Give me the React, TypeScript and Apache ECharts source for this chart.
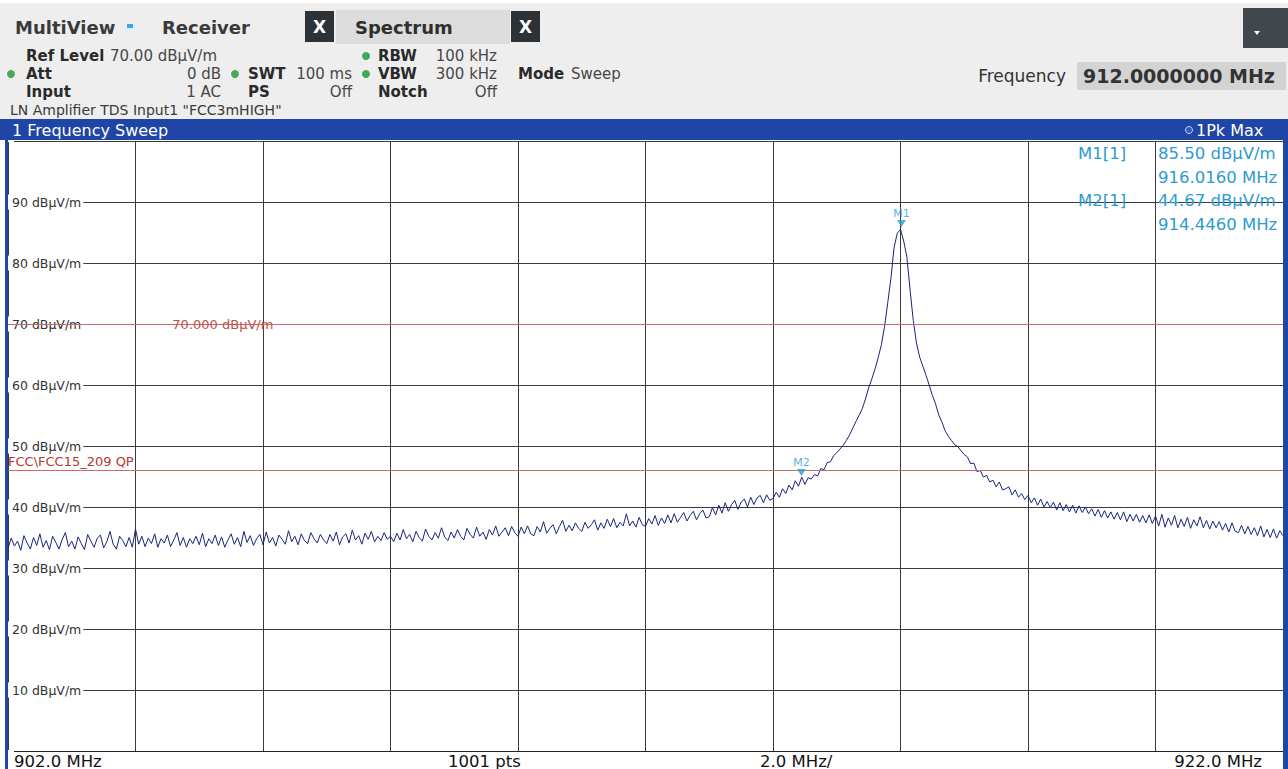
import React, { useEffect, useRef } from "react";
import * as echarts from "echarts";

// ---------- DATA ----------
const START_MHZ = 902;
const STOP_MHZ = 922;
const STEP_MHZ = 0.05;

// Trace level (dBµV/m) every 0.05 MHz, 902.00 … 922.00 MHz (one row per MHz)
const traceLevels: number[] = [
  33.2, 34.9, 33.6, 34.4, 32.9, 35.3, 34.1, 33.1, 35.0, 33.7, 35.6, 33.4, 34.5, 33.0, 35.2, 34.2, 33.1, 34.7, 35.8, 33.5,
  34.4, 33.1, 35.1, 34.0, 33.0, 35.5, 34.4, 33.4, 34.9, 35.4, 33.3, 34.3, 36.0, 33.9, 33.1, 35.2, 34.5, 33.5, 35.0, 33.4,
  36.4, 33.9, 35.2, 33.5, 34.9, 34.0, 35.6, 33.4, 34.8, 34.1, 35.4, 33.5, 34.6, 35.8, 33.7, 35.0, 33.4, 34.8, 34.0, 35.2,
  33.8, 35.7, 33.5, 34.8, 34.0, 35.4, 33.7, 35.1, 33.4, 34.6, 35.6, 33.9, 35.0, 33.5, 36.0, 34.2, 35.3, 33.7, 34.8, 35.5,
  33.8, 35.9, 34.1, 35.0, 33.6, 35.4, 34.7, 33.9, 36.1, 34.3, 35.2, 33.8, 35.6, 34.5, 34.0, 35.8, 34.8, 34.1, 35.5, 34.6,
  34.0, 35.5, 34.4, 35.9, 33.8, 35.1, 35.6, 34.1, 36.2, 34.6, 35.3, 33.9, 35.7, 34.7, 36.0, 34.3, 35.2, 34.5, 35.8, 34.7,
  35.2, 34.3, 35.7, 34.6, 36.3, 34.8, 35.5, 34.3, 36.0, 35.0, 34.4, 36.4, 35.2, 34.6, 35.8, 34.9, 36.6, 35.1, 34.5, 35.9,
  34.9, 36.3, 35.2, 34.6, 36.5, 35.5, 34.9, 36.7, 35.2, 35.9, 34.7, 36.3, 35.4, 36.9, 35.2, 35.9, 36.6, 35.3, 36.8, 35.8,
  35.2, 36.7, 35.6, 36.9, 35.6, 35.3, 36.8, 35.9, 37.6, 35.7, 36.5, 37.1, 35.6, 36.8, 37.8, 36.0, 37.0, 36.1, 37.4, 36.5,
  36.0, 37.5, 36.5, 37.1, 37.9, 36.2, 37.4, 36.5, 38.0, 36.8, 38.1, 36.6, 37.5, 36.9, 38.9, 36.9, 37.7, 36.7, 38.3, 37.1,
  36.8, 38.1, 37.2, 38.6, 37.0, 38.2, 37.3, 38.7, 37.4, 38.9, 37.5, 38.3, 39.1, 37.7, 38.6, 39.3, 37.9, 38.9, 39.5, 38.2,
  38.4, 39.9, 38.7, 40.3, 39.0, 40.7, 39.3, 40.4, 41.1, 39.6, 40.8, 41.3, 40.0, 41.6, 40.4, 41.5, 41.9, 40.7, 42.0, 41.1,
  41.4, 42.4, 41.6, 43.0, 42.2, 43.6, 42.8, 44.3, 43.4, 44.9, 43.7, 44.8, 44.6, 45.3, 45.1, 46.3, 46.1, 47.3, 47.4, 48.4,
  48.9, 49.5, 50.1, 50.9, 51.8, 52.9, 54.0, 55.0, 56.1, 57.7, 59.5, 61.0, 62.6, 64.5, 66.6, 69.6, 73.5, 77.5, 82.6, 84.9,
  85.5, 83.6, 81.0, 75.6, 70.6, 66.9, 64.6, 63.1, 61.6, 60.0, 58.3, 56.9, 55.1, 53.9, 52.5, 51.6, 50.9, 50.2, 49.9, 49.2,
  48.6, 48.2, 47.1, 47.2, 45.8, 46.0, 44.9, 45.2, 44.1, 44.4, 43.3, 44.1, 42.8, 43.0, 43.3, 42.0, 42.8, 41.6, 42.2, 41.2,
  41.9, 40.7, 41.5, 40.3, 41.3, 40.0, 40.9, 39.9, 40.8, 39.5, 40.7, 39.4, 40.4, 39.2, 40.3, 39.0, 40.2, 39.1, 40.0, 38.9,
  39.7, 38.5, 39.6, 38.3, 39.4, 38.2, 39.2, 38.0, 39.1, 37.9, 39.2, 37.6, 38.8, 37.7, 38.8, 37.5, 38.6, 37.4, 38.7, 37.3,
  38.5, 36.9, 38.8, 36.7, 38.2, 37.0, 38.6, 36.6, 38.0, 36.8, 38.3, 36.5, 37.9, 36.9, 38.4, 36.6, 37.8, 36.4, 37.7, 36.6,
  37.6, 36.2, 37.3, 35.9, 37.4, 36.0, 35.8, 37.0, 35.6, 36.8, 35.5, 36.6, 35.3, 36.9, 35.1, 36.3, 35.0, 36.4, 34.9, 36.1,
  35.3,
];

const X_INTERVAL = 2; // MHz per division
const Y_MIN = 0;
const Y_MAX = 100;
const Y_INTERVAL = 10;
const Y_UNIT = "dBµV/m";

const markerNames = ["M1", "M2"];
const markerFreqs = [916.016, 914.446];
const markerLevels = [85.5, 44.67];

const limitLevels = [70, 46];
const limitLabels = ["70.000 dBµV/m", "FCC\\FCC15_209 QP"];
const refLabelFreq = 904.57;

const footerLabels = ["902.0 MHz", "1001 pts", "2.0 MHz/", "922.0 MHz"];

// ---------- STYLE ----------
const FONT = "DejaVu Sans";
const BLUE = "#1f46a6";
const TRACE = "#1a237e";
const CYAN = "#2b9bd2";
const LIMIT = "#cc6b63";
const GRID = "#3a3a3a";

function txt(x: number, y: number, text: string, o: any = {}) {
  return {
    type: "text",
    x,
    y,
    z: 30,
    silent: true,
    style: {
      text,
      fill: o.fill || "#333333",
      fontSize: o.size || 15,
      fontFamily: o.family || FONT,
      fontWeight: o.bold ? "bold" : "normal",
      textAlign: o.align || "left",
      align: o.align || "left",
      textVerticalAlign: "middle",
      verticalAlign: "middle",
    },
  };
}
function rect(x: number, y: number, w: number, h: number, fill: string, z = 20) {
  return { type: "rect", z, silent: true, shape: { x, y, width: w, height: h }, style: { fill } };
}
function dot(cx: number, cy: number, fill = "#45a85a") {
  return { type: "circle", z: 30, silent: true, shape: { cx, cy, r: 4 }, style: { fill } };
}

export default function App() {
  const ref = useRef<HTMLDivElement>(null);

  useEffect(() => {
    document.body.style.margin = "0";
    if (!ref.current) return;
    const chart = echarts.init(ref.current, undefined, { renderer: "svg" });

    const traceData = traceLevels.map((v, i) => [+(START_MHZ + i * STEP_MHZ).toFixed(2), v]);
    const markerData = markerNames.map((n, i) => ({ name: n, value: [markerFreqs[i], markerLevels[i]] }));

    const hb = (x: number, y: number, t: string) => txt(x, y, t, { bold: true, fill: "#2a2a2a" });
    const hr = (x: number, y: number, t: string, align = "left") => txt(x, y, t, { fill: "#474747", align });

    const graphics: any[] = [
      // header background
      rect(0, 3, 1288, 116, "#eeeeee", 10),
      // title
      txt(15, 27, "MultiView", { bold: true, size: 18, fill: "#3a3a3a" }),
      rect(127, 24, 10, 9, "#e3f0fa", 20),
      rect(127, 24, 6, 4, "#3aa6e2", 21),
      txt(162, 27, "Receiver", { bold: true, size: 18, fill: "#3a3a3a" }),
      rect(305, 11, 29, 31, "#2d3236"),
      txt(319.5, 27, "X", { bold: true, size: 17, fill: "#ffffff", align: "center" }),
      rect(336, 10, 174, 34, "#dcdcdc"),
      txt(355, 27, "Spectrum", { bold: true, size: 18, fill: "#2f2f2f" }),
      rect(511, 11, 29, 31, "#2d3236"),
      txt(525.5, 27, "X", { bold: true, size: 17, fill: "#ffffff", align: "center" }),
      rect(1243, 8, 45, 40, "#41474c"),
      { type: "polygon", z: 30, silent: true, shape: { points: [[1254, 31], [1260, 31], [1257, 35]] }, style: { fill: "#ffffff" } },
      // settings rows
      hb(26, 56, "Ref Level"),
      hr(110, 56, "70.00 dBµV/m"),
      dot(366, 56),
      hb(378, 56, "RBW"),
      hr(497, 56, "100 kHz", "right"),
      dot(11, 74),
      hb(26, 74, "Att"),
      hr(221, 74, "0 dB", "right"),
      dot(235, 74),
      hb(248, 74, "SWT"),
      hr(352, 74, "100 ms", "right"),
      dot(366, 74),
      hb(378, 74, "VBW"),
      hr(497, 74, "300 kHz", "right"),
      hb(518, 74, "Mode"),
      hr(571, 74, "Sweep"),
      hb(26, 92, "Input"),
      hr(221, 92, "1 AC", "right"),
      hb(248, 92, "PS"),
      hr(352, 92, "Off", "right"),
      hb(378, 92, "Notch"),
      hr(497, 92, "Off", "right"),
      txt(10, 110, 'LN Amplifier TDS Input1 "FCC3mHIGH"', { size: 14, fill: "#3a3a3a" }),
      // frequency box
      txt(1066, 76, "Frequency", { size: 17, fill: "#333333", align: "right" }),
      rect(1077, 62, 209, 28, "#d3d3d3"),
      txt(1083, 76, "912.0000000 MHz", { bold: true, size: 19, fill: "#333333" }),
      // blue title bar and frame
      rect(0, 119, 1288, 21, BLUE, 20),
      txt(12, 130, "1 Frequency Sweep", { size: 16, fill: "#ffffff" }),
      { type: "circle", z: 30, silent: true, shape: { cx: 1189, cy: 130, r: 3.5 }, style: { fill: "#2e56c8", stroke: "#c8d6ff", lineWidth: 1 } },
      txt(1196, 130, "1Pk Max", { size: 16, fill: "#ffffff" }),
      rect(5, 140, 3, 629, BLUE, 20),
      rect(1283, 140, 5, 629, BLUE, 20),
      // footer strip
      rect(8, 752, 1275, 17, "#ffffff", 15),
      txt(14, 761, footerLabels[0], { size: 16.5, fill: "#111111" }),
      txt(448, 761, footerLabels[1], { size: 16.5, fill: "#111111" }),
      txt(760, 761, footerLabels[2], { size: 16.5, fill: "#111111" }),
      txt(1262, 761, footerLabels[3], { size: 16.5, fill: "#111111", align: "right" }),
    ];

    // marker table
    markerNames.forEach((n, i) => {
      const y0 = 153 + i * 47;
      graphics.push(txt(1078, y0, `${n}[1]`, { size: 16.5, fill: CYAN }));
      graphics.push(txt(1158, y0, `${markerLevels[i].toFixed(2)} ${Y_UNIT}`, { size: 16.5, fill: CYAN }));
      graphics.push(txt(1158, y0 + 24, `${markerFreqs[i].toFixed(4)} MHz`, { size: 16.5, fill: CYAN }));
    });

    chart.setOption({
      animation: false,
      backgroundColor: "#ffffff",
      grid: { left: 8, right: 5, top: 141, bottom: 18, containLabel: false },
      xAxis: {
        type: "value",
        min: START_MHZ,
        max: STOP_MHZ,
        interval: X_INTERVAL,
        axisLabel: { show: false },
        axisTick: { show: false },
        axisLine: { show: true, lineStyle: { color: "#222222", width: 1 } },
        splitLine: { show: true, lineStyle: { color: GRID, width: 1 } },
      },
      yAxis: {
        type: "value",
        min: Y_MIN,
        max: Y_MAX,
        interval: Y_INTERVAL,
        axisLine: { show: false },
        axisTick: { show: false },
        splitLine: { show: true, lineStyle: { color: GRID, width: 1 } },
        axisLabel: {
          inside: true,
          margin: 0,
          fontFamily: FONT,
          fontSize: 12.5,
          color: "#333333",
          backgroundColor: "#ffffff",
          padding: [1, 2, 1, 4],
          formatter: (v: number) => (v === Y_MIN || v === Y_MAX ? "" : `${v} ${Y_UNIT}`),
        },
      },
      series: [
        {
          name: "1Pk Max",
          type: "line",
          data: traceData,
          showSymbol: false,
          symbol: "none",
          smooth: false,
          lineStyle: { color: TRACE, width: 1 },
          z: 3,
          markLine: {
            silent: true,
            symbol: ["none", "none"],
            lineStyle: { color: LIMIT, width: 1, type: "solid" },
            data: [
              { yAxis: limitLevels[0], label: { show: false } },
              {
                yAxis: limitLevels[1],
                label: {
                  show: true,
                  position: "insideStartTop",
                  distance: [0, 2],
                  formatter: limitLabels[1],
                  color: "#b3372e",
                  fontFamily: FONT,
                  fontSize: 13,
                  padding: 0,
                },
              },
            ],
          },
          markPoint: {
            silent: true,
            symbol: "circle",
            symbolSize: 1,
            itemStyle: { color: "rgba(0,0,0,0)" },
            data: [
              {
                coord: [refLabelFreq, limitLevels[0]],
                label: {
                  show: true,
                  position: "right",
                  distance: 0,
                  formatter: limitLabels[0],
                  color: "#c0504d",
                  fontFamily: FONT,
                  fontSize: 13,
                },
              },
            ],
          },
        },
        {
          name: "Markers",
          type: "scatter",
          data: markerData,
          symbol: "triangle",
          symbolRotate: 180,
          symbolSize: [9, 7],
          symbolOffset: [0, -6],
          itemStyle: { color: CYAN },
          z: 5,
          label: {
            show: true,
            position: "top",
            distance: 1,
            formatter: (p: any) => p.name,
            color: CYAN,
            fontFamily: FONT,
            fontSize: 11,
          },
        },
      ],
      graphic: { elements: graphics },
    });

    return () => chart.dispose();
  }, []);

  return <div ref={ref} style={{ width: 1288, height: 769 }} />;
}
